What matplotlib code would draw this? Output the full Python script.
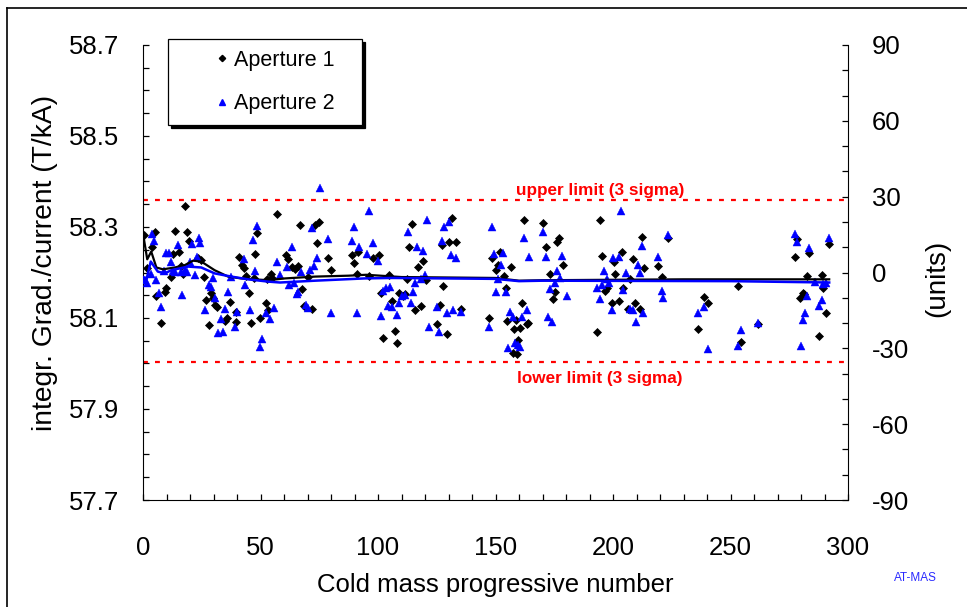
import numpy as np
import matplotlib
matplotlib.use("Agg")
import matplotlib.pyplot as plt
from matplotlib.lines import Line2D
from matplotlib.ticker import FixedLocator, MultipleLocator, FormatStrFormatter

plt.rcParams['font.family'] = ['Liberation Sans', 'DejaVu Sans']
plt.rcParams['axes.unicode_minus'] = False

#integrated gradient / current for each cold mass, aperture 1
ap1_x = [0.4, 1.8, 3.8, 5.0, 5.7, 7.5, 9.2, 9.9, 12.0, 12.8, 13.8, 15.2, 16.0, 17.0, 17.7,
         18.7, 19.6, 23.4, 24.5, 25.8, 26.7, 28.0, 28.8, 29.8, 30.8, 31.6, 35.0, 35.9, 36.9,
         39.4, 39.7, 40.9, 42.1, 43.0, 44.0, 45.0, 46.1, 47.1, 47.8, 48.5, 49.7, 52.2, 52.9,
         53.1, 54.5, 55.0, 56.9, 60.7, 61.6, 63.5, 64.7, 65.8, 66.8, 67.8, 68.6, 70.3, 72.0,
         73.2, 73.9, 75.0, 78.9, 80.0, 89.1, 89.9, 90.9, 91.6, 96.2, 98.0, 100.4, 101.3, 102.3,
         104.7, 105.8, 107.2, 108.0, 109.1, 110.5, 111.5, 112.2, 113.3, 114.3, 115.7, 117.1,
         118.3, 119.3, 120.4, 125.2, 126.4, 127.1, 127.8, 129.5, 130.3, 131.4, 133.2, 135.2,
         147.4, 148.4, 150.2, 151.2, 151.9, 153.6, 154.5, 155.0, 156.5, 157.3, 157.9, 159.0,
         159.7, 158.6, 160.4, 161.4, 162.3, 163.3, 164.0, 170.3, 171.5, 173.2, 174.6, 175.3,
         176.0, 177.0, 178.6, 193.3, 194.5, 195.2, 196.6, 197.3, 199.4, 200.6, 200.9, 202.6,
         203.7, 204.4, 206.3, 207.2, 208.6, 209.4, 211.5, 212.2, 213.2, 219.3, 220.7, 223.5,
         236.3, 238.7, 240.6, 253.3, 254.3, 261.8, 277.4, 278.4, 279.6, 280.7, 281.3, 282.7,
         283.5, 287.8, 288.8, 289.5, 290.6, 292.0]
ap1_y = [58.282, 58.210, 58.255, 58.288, 58.148, 58.090, 58.158, 58.167, 58.190, 58.240, 58.292,
         58.246, 58.214, 58.197, 58.347, 58.290, 58.270, 58.231, 58.227, 58.190, 58.140, 58.085,
         58.156, 58.143, 58.129, 58.125, 58.094, 58.100, 58.136, 58.092, 58.113, 58.235, 58.216,
         58.209, 58.192, 58.156, 58.090, 58.187, 58.240, 58.286, 58.100, 58.134, 58.185,
         58.118, 58.197, 58.187, 58.329, 58.238, 58.229, 58.211, 58.207, 58.214, 58.304, 58.163,
         58.126, 58.191, 58.119, 58.304, 58.265, 58.312, 58.231, 58.205, 58.238, 58.220, 58.197,
         58.246, 58.192, 58.231, 58.238, 58.154, 58.055, 58.195, 58.138, 58.072, 58.046, 58.156,
         58.148, 58.153, 58.185, 58.255, 58.307, 58.118, 58.213, 58.126, 58.226, 58.183, 58.087,
         58.129, 58.260, 58.170, 58.065, 58.268, 58.319, 58.268, 58.119, 58.100, 58.231, 58.205,
         58.216, 58.246, 58.192, 58.165, 58.094, 58.213, 58.024, 58.075, 58.021, 58.052, 58.096,
         58.077, 58.134, 58.315, 58.087, 58.090, 58.309, 58.255, 58.197, 58.141, 58.158, 58.268,
         58.275, 58.216, 58.070, 58.315, 58.236, 58.160, 58.165, 58.132, 58.222, 58.197, 58.138,
         58.246, 58.165, 58.119, 58.185, 58.229, 58.134, 58.119, 58.277, 58.209, 58.214, 58.190,
         58.275, 58.075, 58.147, 58.134, 58.170, 58.048, 58.087, 58.235, 58.273, 58.143, 58.156,
         58.153, 58.192, 58.242, 58.060, 58.195, 58.167, 58.112, 58.263]

#aperture 2
ap2_x = [0.7, 1.8, 3.3, 3.8, 4.7, 5.7, 6.7, 7.5, 8.9, 9.9, 10.9, 11.8, 12.8, 13.8, 14.9, 16.0,
         16.7, 17.7, 18.8, 19.8, 21.0, 22.0, 23.0, 23.8, 24.4, 26.5, 28.0, 28.8, 29.8, 30.8,
         31.9, 33.0, 34.0, 35.0, 36.2, 37.6, 39.0, 40.1, 43.0, 43.5, 45.4, 46.8, 47.8, 48.6,
         49.7, 50.6, 52.2, 54.0, 55.9, 56.9, 58.3, 61.1, 62.1, 63.3, 64.4, 65.4, 66.1, 67.2,
         69.4, 70.1, 71.1, 72.0, 72.9, 73.9, 75.3, 78.9, 80.0, 89.1, 89.9, 90.9, 92.0, 95.2,
         96.2, 98.0, 100.1, 101.3, 102.3, 103.3, 104.1, 105.1, 106.1, 108.0, 109.1, 110.1,
         111.5, 112.9, 113.9, 114.8, 115.7, 116.7, 118.2, 119.0, 120.0, 121.0, 121.8, 125.2,
         126.1, 127.1, 128.1, 129.5, 130.3, 131.1, 132.1, 133.2, 135.2, 147.4, 148.4, 149.4,
         150.2, 150.9, 152.2, 153.3, 154.5, 155.4, 156.2, 157.3, 158.3, 159.7, 160.4, 161.4,
         162.3, 163.3, 164.3, 170.3, 171.5, 172.5, 173.2, 174.2, 175.3, 176.0, 177.4, 178.4,
         180.3, 193.1, 194.5, 195.4, 196.3, 197.3, 198.3, 199.4, 200.1, 202.6, 203.4, 204.4,
         205.4, 207.2, 208.6, 209.6, 210.5, 211.5, 212.2, 212.9, 219.3, 220.7, 221.4, 223.5,
         236.3, 238.7, 240.6, 253.3, 254.3, 261.8, 277.4, 278.4, 279.8, 280.9, 281.6, 282.7,
         283.5, 286.0, 287.8, 288.8, 289.5, 290.6, 292.0]
ap2_y = [58.183, 58.178, 58.197, 58.285, 58.270, 58.183, 58.154, 58.124, 58.204, 58.242, 58.242,
         58.224, 58.204, 58.202, 58.260, 58.202, 58.150, 58.205, 58.202, 58.224, 58.263, 58.195,
         58.233, 58.275, 58.264, 58.118, 58.173, 58.169, 58.187, 58.143, 58.066, 58.097, 58.070,
         58.119, 58.158, 58.190, 58.081, 58.114, 58.229, 58.173, 58.118, 58.271, 58.204, 58.302,
         58.037, 58.053, 58.110, 58.097, 58.121, 58.224, 58.195, 58.213, 58.173, 58.255, 58.176,
         58.153, 58.158, 58.202, 58.129, 58.121, 58.205, 58.297, 58.214, 58.231, 58.385, 58.273,
         58.112, 58.270, 58.299, 58.112, 58.255, 58.240, 58.336, 58.264, 58.226, 58.104, 58.160,
         58.167, 58.126, 58.169, 58.124, 58.107, 58.132, 58.148, 58.150, 58.290, 58.132, 58.158,
         58.176, 58.255, 58.185, 58.248, 58.195, 58.315, 58.080, 58.124, 58.070, 58.270, 58.299,
         58.112, 58.312, 58.238, 58.118, 58.231, 58.114, 58.080, 58.299, 58.240, 58.158, 58.185,
         58.216, 58.242, 58.158, 58.033, 58.114, 58.102, 58.046, 58.041, 58.036, 58.103, 58.275,
         58.118, 58.233, 58.290, 58.233, 58.103, 58.163, 58.092, 58.178, 58.204, 58.187, 58.236,
         58.148, 58.165, 58.141, 58.173, 58.204, 58.185, 58.176, 58.118, 58.231, 58.233, 58.336,
         58.162, 58.200, 58.119, 58.118, 58.092, 58.216, 58.200, 58.258, 58.112, 58.233, 58.160,
         58.143, 58.282, 58.110, 58.125, 58.031, 58.038, 58.074, 58.090, 58.285, 58.266, 58.038,
         58.096, 58.112, 58.148, 58.253, 58.180, 58.126, 58.140, 58.175, 58.176, 58.275]

#running averages
run1_x = [0, 1.8, 3.5, 5.7, 8.5, 13.5, 17.7, 21.3, 24.8, 30.5, 36.2, 41.8, 53.2, 60.4, 73.2,
          87.4, 95, 110, 150, 160, 170, 230, 292]
run1_y = [58.286, 58.229, 58.246, 58.211, 58.207, 58.211, 58.216, 58.226, 58.224, 58.205,
          58.191, 58.187, 58.183, 58.187, 58.191, 58.193, 58.195, 58.190, 58.188, 58.182,
          58.183, 58.185, 58.185]
run2_x = [0, 1.5, 3.3, 6.3, 9.3, 12, 19.2, 24.8, 30.5, 37.6, 44.7, 53.2, 58.3, 73.2, 94.3,
          106, 150, 160, 170, 250, 292]
run2_y = [58.190, 58.185, 58.224, 58.202, 58.198, 58.205, 58.213, 58.211, 58.198, 58.191,
          58.185, 58.180, 58.178, 58.182, 58.187, 58.188, 58.186, 58.181, 58.182, 58.181,
          58.178]

upper_limit = 58.36
lower_limit = 58.003

blue = '#0000ff'
red = '#ff0000'

fig = plt.figure(figsize=(9.67, 6.07), dpi=100)
ax = fig.add_axes([143 / 967, 1 - 500 / 607, 705 / 967, 455 / 607])
ax2 = ax.twinx()

ax.plot(ap1_x, ap1_y, linestyle='none', marker='D', ms=4.2, color='black', mew=0.5, zorder=3)
ax.plot(ap2_x, ap2_y, linestyle='none', marker='^', ms=6.2, color=blue, mew=0.3, zorder=3)
ax.plot(run1_x, run1_y, color='black', lw=1.6, zorder=4)
ax.plot(run2_x, run2_y, color=blue, lw=1.8, zorder=4)

#3 sigma band
for lim in (upper_limit, lower_limit):
    ax.plot([0, 300], [lim, lim], color=red, lw=1.6, dashes=(2.2, 3.2), zorder=2)
ax.text(194.5, 58.370, 'upper limit (3 sigma)', color=red, fontsize=12.3, fontweight='bold',
        ha='center', va='baseline')
ax.text(194.5, 57.957, 'lower limit (3 sigma)', color=red, fontsize=12.3, fontweight='bold',
        ha='center', va='baseline')

ax.set_xlim(0, 300)
ax.set_ylim(57.7, 58.7)
ax2.set_ylim(-90, 90)

ax.xaxis.set_major_locator(MultipleLocator(50))
ax.xaxis.set_minor_locator(MultipleLocator(10))
ax.yaxis.set_major_locator(FixedLocator(np.arange(57.7, 58.71, 0.2)))
ax.yaxis.set_minor_locator(MultipleLocator(0.05))
ax.yaxis.set_major_formatter(FormatStrFormatter('%.1f'))
ax2.yaxis.set_major_locator(MultipleLocator(30))
ax2.yaxis.set_minor_locator(MultipleLocator(10))

for a in (ax, ax2):
    a.spines['top'].set_visible(False)
    a.tick_params(which='both', direction='in', length=4.3, width=0.9, labelsize=18.5)
ax.spines['right'].set_visible(False)
ax2.spines['left'].set_visible(False)
ax2.spines['bottom'].set_visible(False)
ax.tick_params(axis='y', which='both', pad=17)
ax.tick_params(axis='x', which='both', pad=26)
ax2.tick_params(axis='y', which='both', pad=17)

ax.set_xlabel('Cold mass progressive number', fontsize=18.5, va='center')
ax.xaxis.set_label_coords(0.5, -0.187)
ax.set_ylabel('integr. Grad./current (T/kA)', fontsize=20.3, va='center')
ax.yaxis.set_label_coords(-0.139, 0.521)
ax2.set_ylabel('(units)', fontsize=20, va='center')
ax2.yaxis.set_label_coords(1.126, 0.486)

#legend box with a hard black shadow
handles = [Line2D([], [], linestyle='none', marker='D', ms=3.2, color='black'),
           Line2D([], [], linestyle='none', marker='^', ms=4.5, color=blue)]
leg = fig.legend(handles, ['Aperture 1', 'Aperture 2'], loc='upper left',
                 bbox_to_anchor=(168 / 967, 1 - 127 / 607, 194 / 967, 88 / 607),
                 mode='expand', borderaxespad=0, fontsize=15.5, fancybox=False,
                 shadow={'color': 'black', 'alpha': 1}, borderpad=0.5,
                 handlelength=4.0, handletextpad=-1.45, labelspacing=1.05)
leg.get_frame().set_edgecolor('black')
leg.get_frame().set_linewidth(0.9)
leg.get_frame().set_alpha(1)

fig.text((893 + 937) / 2 / 967, 1 - 578 / 607, 'AT-MAS', color='#2a2aff', fontsize=8.5,
         ha='center', va='center')

#page frame on the left and top
fig.add_artist(Line2D([7 / 967, 7 / 967], [0, 1 - 8 / 607], color='black', lw=1.2))
fig.add_artist(Line2D([7 / 967, 1], [1 - 8 / 607, 1 - 8 / 607], color='black', lw=1.2))

fig.savefig('out.png', dpi=100)
